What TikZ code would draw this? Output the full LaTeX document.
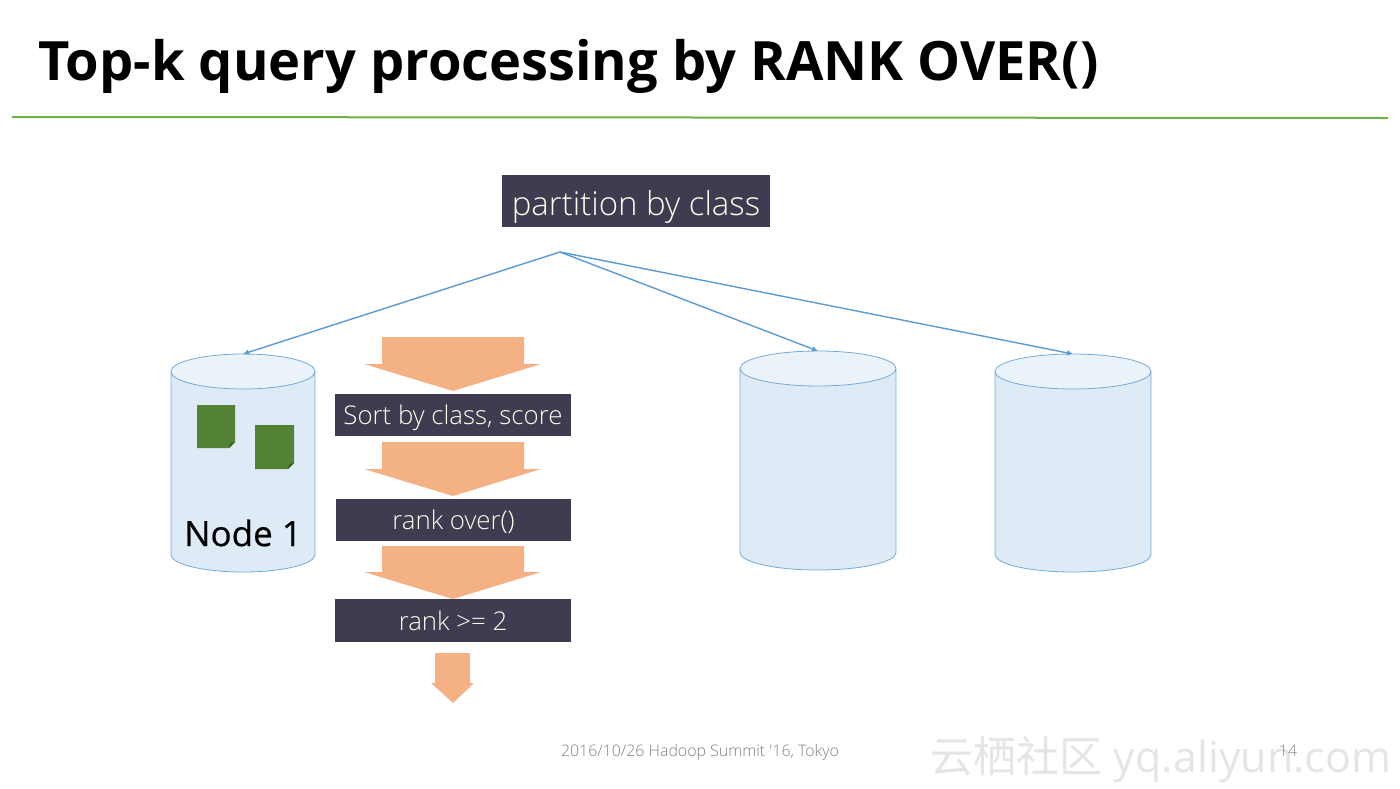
\documentclass[tikz,border=0pt]{standalone}
\usepackage{fontspec}
\setmainfont{Open Sans}
\newfontfamily\cjk{Noto Sans CJK SC}
\newfontfamily\lightfont{Open Sans Light}
\newfontfamily\labelfont[FakeBold=0.5]{Open Sans}
\usetikzlibrary{arrows.meta,shapes.geometric}

\definecolor{slate}{HTML}{3D3C50}
\definecolor{peach}{HTML}{F4B183}
\definecolor{leaf}{HTML}{548235}
\definecolor{linkblue}{HTML}{5B9BD5}
\definecolor{rulegreen}{HTML}{70AD47}

\tikzset{
  stepbox/.style={fill=slate,text=white!92!yellow,inner sep=0pt,outer sep=0pt,anchor=center,text depth=0pt},
  stepfont/.style={font=\lightfont\fontsize{25.8}{30}\selectfont,text height=19.5pt},
  store/.style={cylinder,shape border rotate=90,shape aspect=0.583,draw=linkblue!85,line width=0.8pt,
    cylinder uses custom fill,cylinder body fill=linkblue!20,cylinder end fill=linkblue!12,
    inner sep=30pt,outer sep=0pt,anchor=shape center},
  link/.style={-{Latex[length=6pt,width=6pt]},linkblue,line width=1.4pt},
  footer/.style={font=\lightfont\fontsize{15.9}{18}\selectfont,text=black!50,inner sep=0pt}
}

\begin{document}
\begin{tikzpicture}[x=1pt,y=-1pt]
\useasboundingbox (0,0) rectangle (1400,788);

% ---- heading ---------------------------------------------------------------
\node[anchor=base west,inner sep=0pt,font=\fontsize{54.2}{60}\selectfont\bfseries] (title) at (38,80)
  {Top-k query processing by RANK OVER()};
\coordinate (ruleL) at (12,117);
\coordinate (ruleR) at (1388,118);
\draw[line width=2pt,rulegreen] (ruleL) -- (ruleR);

% ---- partition step and the three stores ------------------------------------
\node[stepbox,minimum width=268pt,minimum height=52pt,text height=28pt,font=\lightfont\fontsize{33}{38}\selectfont] (partition) at (636,201) {partition by class};
\coordinate (hub) at (560,252);

\node[store,minimum width=144pt,minimum height=218pt] (store1) at (243,463) {};
\node[store,minimum width=156pt,minimum height=219pt] (store2) at (818,460.5) {};
\node[store,minimum width=156pt,minimum height=218pt] (store3) at (1073,463) {};
\node[inner sep=0pt,font=\labelfont\fontsize{35}{40}\selectfont] (nodelabel) at (243,533) {Node 1};

\draw[link] (hub) -- (store1.north);
\draw[link] (hub) -- (store2.north);
\draw[link] (hub) -- (store3.north);

% ---- documents inside the first store ---------------------------------------
\foreach \l/\t/\r/\b in {197/405/235/448, 255/425/294/469} {
  \fill[leaf] (\l,\t) -- (\r,\t) -- (\r,\b-6) -- (\r-6,\b) -- (\l,\b) -- cycle;
  \fill[leaf!75!black] (\r,\b-6) -- (\r-6,\b) -- (\r-5,\b-5) -- cycle;
}

% ---- processing steps -------------------------------------------------------
\foreach \t/\s/\h in {337/364/391, 442/469/496, 546/572/599}
  \fill[peach] (382,\t) -- (524,\t) -- (524,\s) -- (541,\s) -- (453,\h) -- (364,\s) -- (382,\s) -- cycle;
\fill[peach] (435,653) -- (470,653) -- (470,683) -- (474,683) -- (453,703) -- (431,683) -- (435,683) -- cycle;

\node[stepbox,stepfont,minimum width=236pt,minimum height=42pt] (sort) at (453,415) {Sort by class, score};
\node[stepbox,stepfont,minimum width=235pt,minimum height=42pt] (rank) at (453.5,520) {rank over()};
\node[stepbox,stepfont,minimum width=236pt,minimum height=43pt] (filter) at (453,620.5) {rank >= 2};

% ---- footer -----------------------------------------------------------------
\node[footer] (date) at (700,752) {2016/10/26 Hadoop Summit '16, Tokyo};
\node[footer,text=black!10,font=\fontsize{43}{50}\selectfont] (mark) at (1161,760) {{\cjk 云栖社区} yq.aliyun.com};
\node[footer] (page) at (1288,751) {14};

\end{tikzpicture}
\end{document}
